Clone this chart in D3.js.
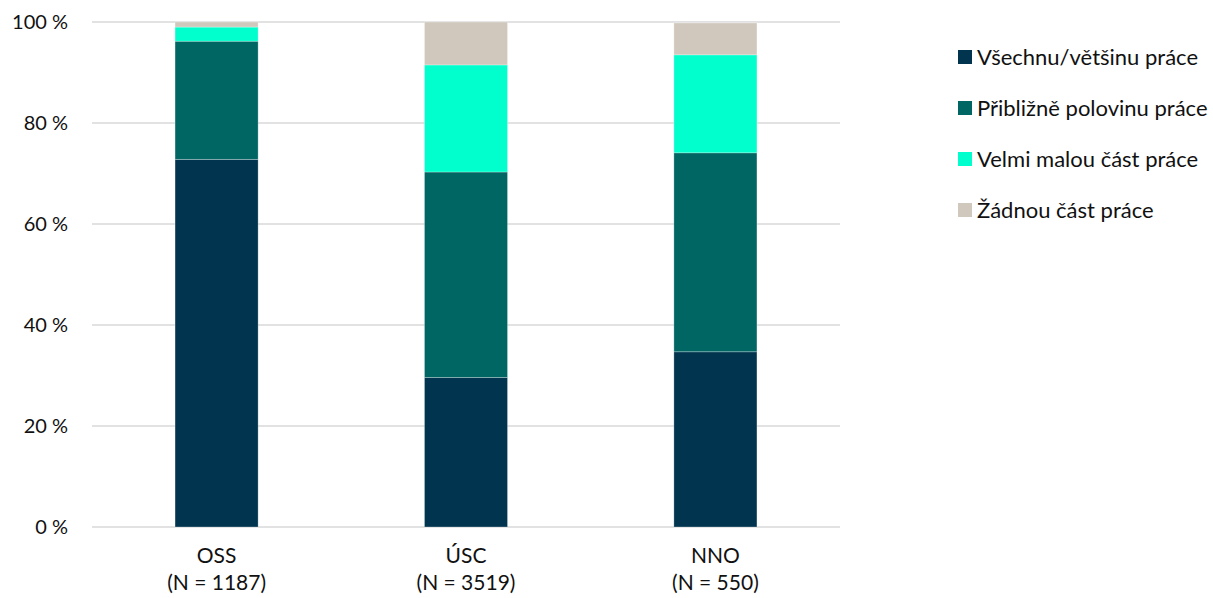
<!DOCTYPE html>
<html>
<head>
<meta charset="utf-8">
<script src="https://cdn.jsdelivr.net/npm/d3@7"></script>
<style>
  html, body { margin: 0; padding: 0; background: #fff; }
  svg { display: block; font-family: Lato, "Open Sans", sans-serif; }
</style>
</head>
<body>
<svg id="chart" width="1213" height="598"></svg>
<script>
// Share of work, by organisation type (percent of respondents)
const categories = ["OSS", "ÚSC", "NNO"];
const sampleSizes = ["(N = 1187)", "(N = 3519)", "(N = 550)"];
const seriesNames = ["Všechnu/většinu práce", "Přibližně polovinu práce", "Velmi malou část práce", "Žádnou část práce"];
const allOrMost = [72.8, 29.6, 34.7];
const aboutHalf = [23.4, 40.7, 39.4];
const verySmall = [2.8, 21.2, 19.4];
const none = [1.0, 8.5, 6.3];
const yTicks = [0, 20, 40, 60, 80, 100];
const colors = ["#00344f", "#006663", "#00ffcc", "#d0c8bc"];

const seriesValues = [allOrMost, aboutHalf, verySmall, none];
const rows = categories.map((c, i) => {
  const r = { category: c };
  seriesNames.forEach((s, k) => { r[s] = seriesValues[k][i]; });
  return r;
});
const stacked = d3.stack().keys(seriesNames)(rows);

const svg = d3.select("#chart");
const plot = { left: 92, right: 840, top: 22, bottom: 527 };

const x = d3.scaleBand().domain(categories).range([plot.left, plot.right])
  .paddingInner(0.667).paddingOuter(0.333);
const y = d3.scaleLinear().domain([0, 100]).range([plot.bottom, plot.top]);

// gridlines
svg.append("g").selectAll("line").data(yTicks).join("line")
  .attr("x1", plot.left).attr("x2", plot.right)
  .attr("y1", d => y(d)).attr("y2", d => y(d))
  .attr("stroke", "#d9d9d9").attr("stroke-width", 1.3);

// y-axis labels
const yAxis = d3.axisLeft(y).tickValues(yTicks).tickFormat(d => d + " %").tickSize(0).tickPadding(0);
svg.append("g").attr("transform", "translate(68,0)").call(yAxis)
  .call(g => g.select(".domain").remove())
  .call(g => g.selectAll("text").attr("font-size", 20).attr("fill", "#111")
    .attr("font-family", "Lato, 'Open Sans', sans-serif"));

// stacked bars
svg.append("g").selectAll("g").data(stacked).join("g")
  .attr("fill", (d, i) => colors[i])
  .selectAll("rect").data(d => d).join("rect")
  .attr("x", d => x(d.data.category))
  .attr("width", x.bandwidth())
  .attr("y", d => y(d[1]))
  .attr("height", d => y(d[0]) - y(d[1]))
  .attr("stroke", "rgba(255,255,255,0.35)")
  .attr("stroke-width", 0.8);

// category labels
const xl = svg.append("g");
categories.forEach((c, i) => {
  const cx = x(c) + x.bandwidth() / 2;
  xl.append("text").attr("x", cx).attr("y", 563).attr("text-anchor", "middle")
    .attr("font-size", 21).attr("fill", "#111").text(c);
  xl.append("text").attr("x", cx).attr("y", 590).attr("text-anchor", "middle")
    .attr("font-size", 21).attr("fill", "#111").text(sampleSizes[i]);
});

// legend
const legend = svg.append("g").selectAll("g").data(seriesNames).join("g")
  .attr("transform", (d, i) => `translate(958, ${57 + i * 51})`);
legend.append("rect").attr("x", 0).attr("y", -7).attr("width", 14).attr("height", 14)
  .attr("fill", (d, i) => colors[i]);
legend.append("text").attr("x", 19).attr("y", 0).attr("dy", "0.35em")
  .attr("font-size", 22).attr("fill", "#111").text(d => d);
</script>
</body>
</html>
